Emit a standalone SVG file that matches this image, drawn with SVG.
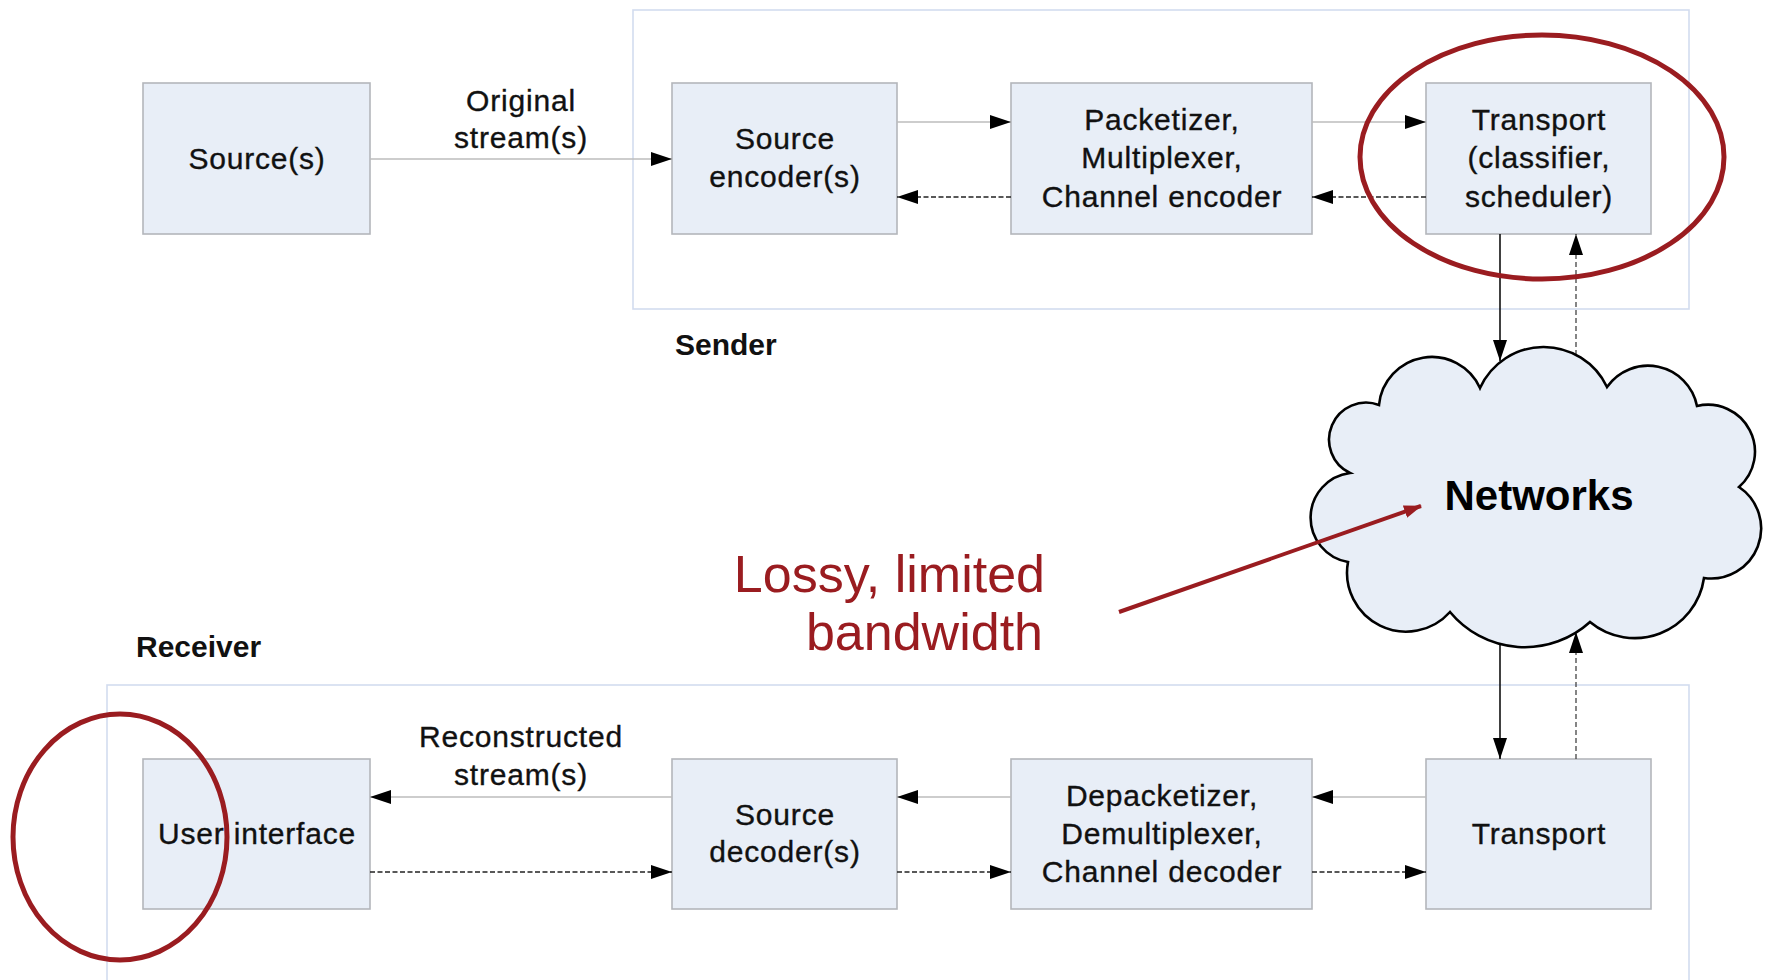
<svg xmlns="http://www.w3.org/2000/svg" width="1767" height="980" viewBox="0 0 1767 980">
  <style>
    .frame { fill: none; stroke: #d3dcef; stroke-width: 1.6; }
    .box { fill: #e8eef7; stroke: #b3b6bb; stroke-width: 1.6; }
    .txt { font-family: "Liberation Sans", Arial, sans-serif; font-size: 30px; letter-spacing: 0.8px; fill: #111; stroke: #111; stroke-width: 0.35; text-anchor: middle; }
    .lbl { font-family: "Liberation Sans", Arial, sans-serif; font-size: 30px; font-weight: bold; fill: #111; }
    .flow { fill: none; stroke: #bdbdbd; stroke-width: 1.6; marker-end: url(#head); }
    .back { fill: none; stroke: #222; stroke-width: 1.4; stroke-dasharray: 5 2.5; marker-end: url(#head); }
    .vflow { fill: none; stroke: #111; stroke-width: 1.6; marker-end: url(#head); }
    .vback { fill: none; stroke: #444; stroke-width: 1.3; stroke-dasharray: 5 3; marker-end: url(#head); }
    .mark { fill: none; stroke: #9a1c20; stroke-width: 5; }
    .note { font-family: "Liberation Sans", Arial, sans-serif; font-size: 52px; fill: #9a1c20; text-anchor: end; }
  </style>
  <defs>
    <marker id="head" markerUnits="userSpaceOnUse" markerWidth="21" markerHeight="14" refX="21" refY="7" orient="auto">
      <path d="M0,0 L21,7 L0,14 z" fill="#000"/>
    </marker>
    <marker id="redhead" markerUnits="userSpaceOnUse" markerWidth="18" markerHeight="13" refX="17" refY="6.5" orient="auto">
      <path d="M0,0 L18,6.5 L0,13 z" fill="#9a1c20"/>
    </marker>
  </defs>

  <rect width="1767" height="980" fill="#fff"/>

  <!-- sender / receiver frames -->
  <g id="sender">
    <rect class="frame" x="633" y="10" width="1056" height="299"/>
    <text class="lbl" x="675" y="355">Sender</text>
  </g>
  <g id="receiver">
    <rect class="frame" x="107" y="685" width="1582" height="320"/>
    <text class="lbl" x="136" y="657">Receiver</text>
  </g>

  <!-- sending chain -->
  <g id="sources">
    <rect class="box" x="143" y="83" width="227" height="151"/>
    <text class="txt" x="257" y="169">Source(s)</text>
  </g>
  <g id="source-encoder">
    <rect class="box" x="672" y="83" width="225" height="151"/>
    <text class="txt" x="785" y="149">Source</text>
    <text class="txt" x="785" y="187">encoder(s)</text>
  </g>
  <g id="packetizer">
    <rect class="box" x="1011" y="83" width="301" height="151"/>
    <text class="txt" x="1162" y="130">Packetizer,</text>
    <text class="txt" x="1162" y="168">Multiplexer,</text>
    <text class="txt" x="1162" y="207">Channel encoder</text>
  </g>
  <g id="transport-send">
    <rect class="box" x="1426" y="83" width="225" height="151"/>
    <text class="txt" x="1539" y="130">Transport</text>
    <text class="txt" x="1539" y="168">(classifier,</text>
    <text class="txt" x="1539" y="207">scheduler)</text>
  </g>

  <!-- receiving chain -->
  <g id="user-interface">
    <rect class="box" x="143" y="759" width="227" height="150"/>
    <text class="txt" x="257" y="844">User interface</text>
  </g>
  <g id="source-decoder">
    <rect class="box" x="672" y="759" width="225" height="150"/>
    <text class="txt" x="785" y="825">Source</text>
    <text class="txt" x="785" y="862">decoder(s)</text>
  </g>
  <g id="depacketizer">
    <rect class="box" x="1011" y="759" width="301" height="150"/>
    <text class="txt" x="1162" y="806">Depacketizer,</text>
    <text class="txt" x="1162" y="844">Demultiplexer,</text>
    <text class="txt" x="1162" y="882">Channel decoder</text>
  </g>
  <g id="transport-recv">
    <rect class="box" x="1426" y="759" width="225" height="150"/>
    <text class="txt" x="1539" y="844">Transport</text>
  </g>

  <!-- connectors -->
  <g id="connectors">
    <path class="flow" d="M370,159 H672"/>
    <path class="flow" d="M897,122 H1011"/>
    <path class="flow" d="M1312,122 H1426"/>
    <path class="back" d="M1426,197 H1312"/>
    <path class="back" d="M1011,197 H897"/>
    <path class="vflow" d="M1500,234 V361"/>
    <path class="vback" d="M1576,355 V234"/>
    <path class="vflow" d="M1500,645 V759"/>
    <path class="vback" d="M1576,759 V632"/>
    <path class="flow" d="M1426,797 H1312"/>
    <path class="flow" d="M1011,797 H897"/>
    <path class="flow" d="M672,797 H370"/>
    <path class="back" d="M370,872 H672"/>
    <path class="back" d="M897,872 H1011"/>
    <path class="back" d="M1312,872 H1426"/>
    <text class="txt" x="521" y="111">Original</text>
    <text class="txt" x="521" y="148">stream(s)</text>
    <text class="txt" x="521" y="747">Reconstructed</text>
    <text class="txt" x="521" y="785">stream(s)</text>
  </g>

  <!-- network cloud -->
  <g id="networks">
    <path d="M1379,405 A53,53 0 0 1 1480,388 A70,70 0 0 1 1607,387 A50,50 0 0 1 1697,406 A47,47 0 0 1 1739,487 A50,50 0 0 1 1704,578 A70,70 0 0 1 1590,622 A97,97 0 0 1 1450,612 A59,59 0 0 1 1348,562 A45,45 0 0 1 1350,473 A37,37 0 0 1 1379,405 Z" fill="#e8eef7" stroke="#000" stroke-width="2.6" stroke-linejoin="miter"/>
    <text x="1539" y="510" font-family="Liberation Sans, Arial, sans-serif" font-size="42" font-weight="bold" fill="#000" text-anchor="middle">Networks</text>
  </g>

  <!-- annotations -->
  <g id="annotations">
    <ellipse class="mark" cx="1542" cy="157" rx="182" ry="122"/>
    <ellipse class="mark" cx="120" cy="837" rx="107" ry="123"/>
    <path d="M1119,612 L1421,506" stroke="#9a1c20" stroke-width="4" fill="none" marker-end="url(#redhead)"/>
    <text class="note" x="1045" y="592">Lossy, limited</text>
    <text class="note" x="1043" y="650">bandwidth</text>
  </g>
</svg>
